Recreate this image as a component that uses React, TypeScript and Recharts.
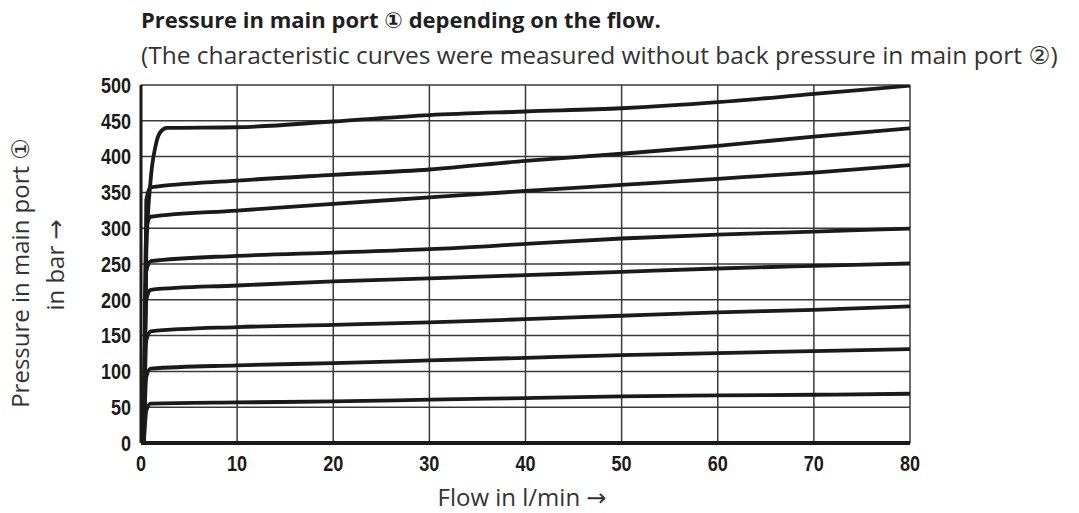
import React from "react";
import { LineChart, Line, XAxis, YAxis, CartesianGrid } from "recharts";

// Tick labels
const xTicks = [0, 10, 20, 30, 40, 50, 60, 70, 80];
const yTicks = [0, 50, 100, 150, 200, 250, 300, 350, 400, 450, 500];

// Flow values (l/min) for the top curve
const flowTop = [0.3, 0.55, 1.0, 1.5, 2.0, 2.7, 10, 20, 30, 40, 50, 60, 70, 80];
const pressTop = [0, 265, 367, 414, 434, 440, 441, 449, 458, 463, 467.5, 476, 487.5, 499];

// Flow values (l/min) for the other curves
const flowLow = [0.3, 0.55, 1.0, 10, 20, 30, 40, 50, 60, 70, 80];
const press2 = [0, 340, 357, 366.5, 374.5, 382, 394, 404, 415, 428, 439.5];
const press3 = [0, 300, 316, 324.6, 334, 343, 352, 360.5, 369, 377.7, 388];
const press4 = [0, 240, 254, 261.4, 266, 270.7, 278, 285.6, 291, 295.3, 299.5];
const press5 = [0, 200, 214, 220, 225.6, 229.8, 234.4, 239, 243.7, 247.4, 250.7];
const press6 = [0, 143, 156, 161.9, 165, 168.4, 173, 177.7, 182.3, 186, 190.7];
const press7 = [0, 92, 104, 108.4, 111.6, 115.3, 119, 122.8, 125.6, 128.4, 131];
const press8 = [0, 45, 55, 56.7, 58, 60.5, 62.8, 65, 66.4, 67.4, 68.8];

const toSeries = (xs: number[], ys: number[]) => xs.map((x, i) => ({ x, y: ys[i] }));

const series = [
  toSeries(flowTop, pressTop),
  toSeries(flowLow, press2),
  toSeries(flowLow, press3),
  toSeries(flowLow, press4),
  toSeries(flowLow, press5),
  toSeries(flowLow, press6),
  toSeries(flowLow, press7),
  toSeries(flowLow, press8),
];

const tickFamily = '"Liberation Sans", Arial, sans-serif';
const textFont = '"Open Sans", "Noto Sans", sans-serif';
const symFont = '"DejaVu Sans", sans-serif';

const XTick = (props: any) => {
  const { x, y, payload } = props;
  return (
    <text
      x={0}
      y={0}
      dy="0.71em"
      textAnchor="middle"
      transform={`translate(${x},${y}) scale(0.82,1)`}
      fontFamily={tickFamily}
      fontWeight={700}
      fontSize={22}
      fill="#1a1a1a"
    >
      {payload.value}
    </text>
  );
};

const YTick = (props: any) => {
  const { x, y, payload } = props;
  return (
    <text
      x={0}
      y={0}
      dy="0.355em"
      textAnchor="end"
      transform={`translate(${x},${y}) scale(0.82,1)`}
      fontFamily={tickFamily}
      fontWeight={700}
      fontSize={22}
      fill="#1a1a1a"
    >
      {payload.value}
    </text>
  );
};

const Sym = ({ c }: { c: string }) => <span style={{ fontFamily: symFont }}>{c}</span>;

export default function App() {
  return (
    <div style={{ position: "absolute", left: 0, top: 0, width: 1079, height: 513, background: "#fff" }}>
      <div
        style={{
          position: "absolute",
          left: 141,
          top: 8,
          fontFamily: textFont,
          fontWeight: 700,
          fontSize: 22,
          lineHeight: "22px",
          color: "#1f1f1f",
          whiteSpace: "nowrap",
        }}
      >
        Pressure in main port <Sym c="①" /> depending on the flow.
      </div>
      <div
        style={{
          position: "absolute",
          left: 141,
          top: 43,
          fontFamily: textFont,
          fontWeight: 400,
          fontSize: 24.5,
          lineHeight: "24px",
          color: "#333",
          whiteSpace: "nowrap",
        }}
      >
        (The characteristic curves were measured without back pressure in main port <Sym c="②" />)
      </div>
      <div
        style={{
          position: "absolute",
          left: 20,
          top: 273,
          transform: "translate(-50%, -50%) rotate(-90deg)",
          fontFamily: textFont,
          fontSize: 24,
          lineHeight: "24px",
          color: "#333",
          whiteSpace: "nowrap",
        }}
      >
        Pressure in main port <Sym c="①" />
      </div>
      <div
        style={{
          position: "absolute",
          left: 55,
          top: 265,
          transform: "translate(-50%, -50%) rotate(-90deg)",
          fontFamily: textFont,
          fontSize: 24,
          lineHeight: "24px",
          color: "#333",
          whiteSpace: "nowrap",
        }}
      >
        in bar <Sym c="→" />
      </div>
      <div
        style={{
          position: "absolute",
          left: 522,
          top: 485,
          transform: "translateX(-50%)",
          fontFamily: textFont,
          fontSize: 24,
          lineHeight: "24px",
          color: "#333",
          whiteSpace: "nowrap",
        }}
      >
        Flow in l/min <Sym c="→" />
      </div>
      <div style={{ position: "absolute", left: 0, top: 0 }}>
        <LineChart width={1079} height={513} margin={{ top: 85, right: 169, bottom: 40, left: 81 }}>
          <CartesianGrid stroke="#3a3a3a" strokeWidth={1.5} fill="none" />
          <XAxis
            type="number"
            dataKey="x"
            domain={[0, 80]}
            ticks={xTicks}
            allowDataOverflow
            height={30}
            tickSize={0}
            tickMargin={12}
            tick={<XTick />}
            axisLine={{ stroke: "#1a1a1a", strokeWidth: 4 }}
            interval={0}
          />
          <YAxis
            type="number"
            dataKey="y"
            domain={[0, 500]}
            ticks={yTicks}
            allowDataOverflow
            width={60}
            tickSize={0}
            tickMargin={10}
            tick={<YTick />}
            axisLine={{ stroke: "#1a1a1a", strokeWidth: 3 }}
            interval={0}
          />
          {series.map((d, i) => (
            <Line
              key={i}
              data={d}
              dataKey="y"
              type="monotone"
              stroke="#1a1a1a"
              strokeWidth={3.8}
              dot={false}
              activeDot={false}
              isAnimationActive={false}
            />
          ))}
        </LineChart>
      </div>
    </div>
  );
}
